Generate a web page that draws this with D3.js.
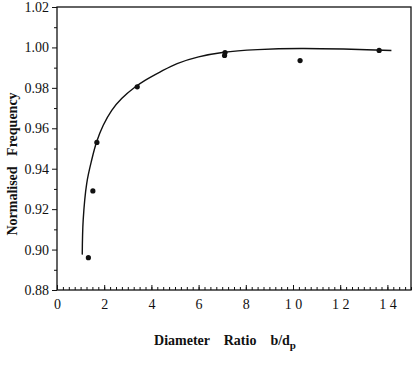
<!DOCTYPE html>
<html>
<head>
<meta charset="utf-8">
<script src="https://cdn.jsdelivr.net/npm/d3@7"></script>
<style>
  body { margin: 0; background: #fff; }
  svg text { font-family: "Liberation Serif", "DejaVu Serif", serif !important; fill: #111; }
</style>
</head>
<body>
<script>
// Datos
const razonDiametro = [1.33, 1.52, 1.69, 3.4, 7.1, 7.12, 10.3, 13.65];
const frecuenciaNorm = [0.896, 0.929, 0.953, 0.9805, 0.996, 0.9975, 0.9935, 0.9985];

// Curva ajustada (puntos leidos sobre la linea)
const curvaX = [1.07, 1.11, 1.26, 1.47, 1.68, 1.96, 2.32, 2.74, 3.31, 3.73, 4.36, 5.09, 6.0, 7.08, 8.5, 10.34, 12.47, 14.17];
const curvaY = [0.8975, 0.9147, 0.9328, 0.9443, 0.9533, 0.9615, 0.9689, 0.9747, 0.9804, 0.9837, 0.9878, 0.992, 0.9953, 0.9976, 0.9989, 0.9995, 0.9991, 0.9985];

const ticksX = [0, 2, 4, 6, 8, 10, 12, 14];
const ticksY = [0.88, 0.90, 0.92, 0.94, 0.96, 0.98, 1.00, 1.02];

const WIDTH = 420;
const HEIGHT = 376;
const MARGIN = { top: 7, bottom: 86, left: 57, right: 9 };

const svg = d3.select("body")
  .append("svg")
  .attr("width", WIDTH)
  .attr("height", HEIGHT);

const escalaX = d3.scaleLinear()
  .domain([0, 15])
  .range([MARGIN.left, WIDTH - MARGIN.right]);

const escalaY = d3.scaleLinear()
  .domain([0.88, 1.02])
  .range([HEIGHT - MARGIN.bottom, MARGIN.top]);

// Marco
svg.append("rect")
  .attr("x", escalaX(0))
  .attr("y", escalaY(1.02))
  .attr("width", escalaX(15) - escalaX(0))
  .attr("height", escalaY(0.88) - escalaY(1.02))
  .attr("fill", "none")
  .attr("stroke", "#111")
  .attr("stroke-width", 1.3);

// Eje X: ticks menores hacia adentro
const ejeXMenor = d3.axisBottom(escalaX)
  .tickValues(d3.range(0, 15.01, 0.25))
  .tickSize(-3)
  .tickFormat("");
svg.append("g")
  .attr("transform", `translate(0, ${escalaY(0.88)})`)
  .call(ejeXMenor)
  .call(g => g.select(".domain").remove())
  .selectAll("line").attr("stroke", "#111");

const ejeX = d3.axisBottom(escalaX)
  .tickValues(ticksX)
  .tickSize(-5)
  .tickPadding(9)
  .tickFormat(d => d >= 10 ? String(d).split("").join(" ") : d);
svg.append("g")
  .attr("transform", `translate(0, ${escalaY(0.88)})`)
  .call(ejeX)
  .call(g => g.select(".domain").remove())
  .call(g => g.selectAll("line").attr("stroke", "#111"))
  .selectAll("text")
  .attr("font-size", 14);

// Eje Y
const ejeYMenor = d3.axisLeft(escalaY)
  .tickValues(d3.range(0.89, 1.02, 0.02))
  .tickSize(3)
  .tickFormat("");
svg.append("g")
  .attr("transform", `translate(${escalaX(0)}, 0)`)
  .call(ejeYMenor)
  .call(g => g.select(".domain").remove())
  .selectAll("line").attr("stroke", "#111");

const ejeY = d3.axisLeft(escalaY)
  .tickValues(ticksY)
  .tickSize(5)
  .tickPadding(3)
  .tickFormat(d3.format(".2f"));
svg.append("g")
  .attr("transform", `translate(${escalaX(0)}, 0)`)
  .call(ejeY)
  .call(g => g.select(".domain").remove())
  .call(g => g.selectAll("line").attr("stroke", "#111"))
  .selectAll("text")
  .attr("font-size", 14);

// Curva
const datosCurva = curvaX.map((x, i) => ({ x: x, y: curvaY[i] }));
const linea = d3.line()
  .x(d => escalaX(d.x))
  .y(d => escalaY(d.y))
  .curve(d3.curveCatmullRom);
svg.append("path")
  .datum(datosCurva)
  .attr("d", linea)
  .attr("fill", "none")
  .attr("stroke", "#111")
  .attr("stroke-width", 1.4);

// Puntos
const datos = razonDiametro.map((x, i) => ({ x: x, y: frecuenciaNorm[i] }));
svg.append("g")
  .selectAll("circle")
  .data(datos)
  .join("circle")
  .attr("cx", d => escalaX(d.x))
  .attr("cy", d => escalaY(d.y))
  .attr("r", 2.6)
  .attr("fill", "#111");

// Titulos de ejes
const tituloX = svg.append("text")
  .attr("x", 225)
  .attr("y", 345)
  .attr("text-anchor", "middle")
  .attr("font-size", 14)
  .attr("font-weight", "bold")
  .attr("xml:space", "preserve");
tituloX.append("tspan").text("Diameter    Ratio    b/d");
tituloX.append("tspan").attr("dy", 4).attr("font-size", 11).text("p");

svg.append("text")
  .attr("transform", "translate(17, 164) rotate(-90)")
  .attr("text-anchor", "middle")
  .attr("font-size", 14)
  .attr("font-weight", "bold")
  .attr("xml:space", "preserve")
  .text("Normalised   Frequency");
</script>
</body>
</html>
